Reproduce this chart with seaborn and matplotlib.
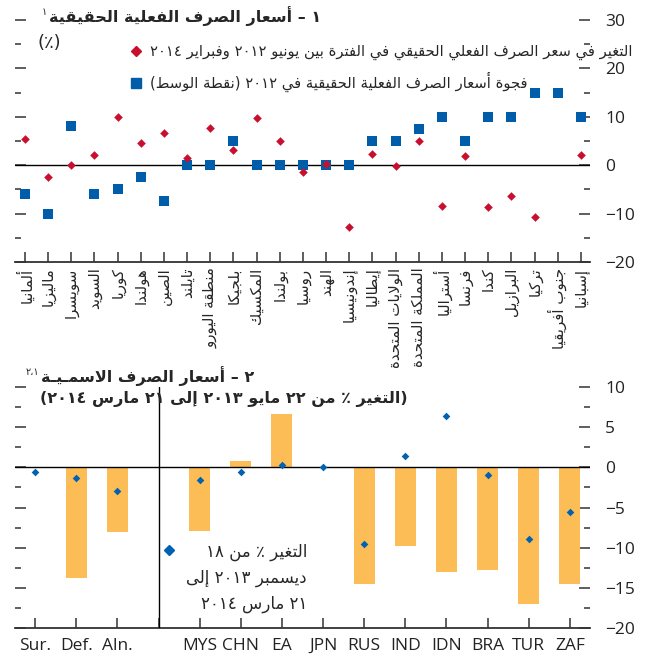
import re
import numpy as np
import pandas as pd
import matplotlib
matplotlib.use("Agg")
import matplotlib.pyplot as plt
import seaborn as sns
from matplotlib.lines import Line2D
from matplotlib.ticker import MultipleLocator

# ---------------- data ----------------
countries = ["ألمانيا", "ماليزيا", "سويسرا", "السويد", "كوريا", "هولندا", "الصين",
             "تايلند", "منطقة اليورو", "بلجيكا", "المكسيك", "بولندا", "روسيا",
             "الهند", "إندونيسيا", "إيطاليا", "الولايات المتحدة", "المملكة المتحدة",
             "أستراليا", "فرنسا", "كندا", "البرازيل", "تركيا", "جنوب أفريقيا", "إسبانيا"]
reer_change = [5.4, -2.4, 0.0, 2.2, 10.0, 4.5, 6.6, 1.5, 7.7, 3.2, 9.8, 5.1, -1.4,
               0.25, -12.8, 2.4, -0.1, 5.1, -8.4, 1.8, -8.6, -6.4, -10.6, np.nan, 2.2]
reer_gap = [-6.0, -10.0, 8.0, -6.0, -5.0, -2.5, -7.5, 0.0, 0.0, 5.0, 0.0, 0.0, 0.0,
            0.0, 0.0, 5.0, 5.0, 7.5, 10.0, 5.0, 10.0, 10.0, 15.0, 15.0, 10.0]

groups = ["Sur.", "Def.", "Aln.", " ", "MYS", "CHN", "EA", "JPN", "RUS", "IND",
          "IDN", "BRA", "TUR", "ZAF"]
chg_may = [np.nan, -13.8, -8.0, np.nan, -7.9, 0.8, 6.65, np.nan, -14.5, -9.8,
           -13.0, -12.8, -17.0, -14.5]
chg_dec = [-0.6, -1.3, -3.0, np.nan, -1.6, -0.6, 0.3, 0.0, -9.5, 1.45,
           6.4, -0.9, -8.9, -5.5]

top_yticks = [-20, -10, 0, 10, 20, 30]
bot_yticks = [-20, -15, -10, -5, 0, 5, 10]

# ---------------- Arabic shaping (no external libs) ----------------
_forms = [('ء', 0xFE80, 1), ('آ', 0xFE81, 2), ('أ', 0xFE83, 2), ('ؤ', 0xFE85, 2),
          ('إ', 0xFE87, 2), ('ئ', 0xFE89, 4), ('ا', 0xFE8D, 2), ('ب', 0xFE8F, 4),
          ('ة', 0xFE93, 2), ('ت', 0xFE95, 4), ('ث', 0xFE99, 4), ('ج', 0xFE9D, 4),
          ('ح', 0xFEA1, 4), ('خ', 0xFEA5, 4), ('د', 0xFEA9, 2), ('ذ', 0xFEAB, 2),
          ('ر', 0xFEAD, 2), ('ز', 0xFEAF, 2), ('س', 0xFEB1, 4), ('ش', 0xFEB5, 4),
          ('ص', 0xFEB9, 4), ('ض', 0xFEBD, 4), ('ط', 0xFEC1, 4), ('ظ', 0xFEC5, 4),
          ('ع', 0xFEC9, 4), ('غ', 0xFECD, 4), ('ف', 0xFED1, 4), ('ق', 0xFED5, 4),
          ('ك', 0xFED9, 4), ('ل', 0xFEDD, 4), ('م', 0xFEE1, 4), ('ن', 0xFEE5, 4),
          ('ه', 0xFEE9, 4), ('و', 0xFEED, 2), ('ى', 0xFEEF, 2), ('ي', 0xFEF1, 4)]
FORMS = {c: (b, n) for c, b, n in _forms}
LAMALEF = {'آ': 0xFEF5, 'أ': 0xFEF7, 'إ': 0xFEF9, 'ا': 0xFEFB}
MIRROR = {'(': ')', ')': '('}
DIG = set('0123456789٠١٢٣٤٥٦٧٨٩')
TATWEEL = 'ـ'


def _shape(s):
    units, i = [], 0
    while i < len(s):
        if s[i] == 'ل' and i + 1 < len(s) and s[i + 1] in LAMALEF:
            units.append(('LA', s[i + 1]))
            i += 2
        else:
            units.append((s[i], None))
            i += 1

    def dual(u):
        return u[0] == TATWEEL or (u[0] in FORMS and FORMS[u[0]][1] == 4)

    def joining(u):
        return (u[0] == 'LA' or u[0] == TATWEEL
                or (u[0] in FORMS and FORMS[u[0]][1] >= 2))

    out = []
    for k, u in enumerate(units):
        prev = units[k - 1] if k > 0 else None
        nxt = units[k + 1] if k + 1 < len(units) else None
        jp = prev is not None and dual(prev) and joining(u)
        if u[0] == 'LA':
            out.append(chr(LAMALEF[u[1]] + (1 if jp else 0)))
            continue
        c = u[0]
        if c not in FORMS:
            out.append(c)
            continue
        base, n = FORMS[c]
        jn = n == 4 and nxt is not None and joining(nxt)
        if n == 1:
            idx = 0
        elif n == 2:
            idx = 1 if jp else 0
        else:
            idx = (3 if jn else 1) if jp else (2 if jn else 0)
        out.append(chr(base + idx))
    return ''.join(out)


def ar(s):
    shaped = _shape(s)
    runs = re.findall(r'[0-9٠-٩]+|[^0-9٠-٩]+', shaped)
    vis = []
    for r in reversed(runs):
        if r[0] in DIG:
            vis.append(r)
        else:
            vis.append(''.join(MIRROR.get(ch, ch) for ch in reversed(r)))
    return ''.join(vis)


# ---------------- style ----------------
sns.set_style("white")
plt.rcParams['font.family'] = ['Open Sans', 'DejaVu Sans']
AR = ['DejaVu Sans']

W, H = 651, 662
RED = '#C8102E'
BLUE = '#005DAA'
ORANGE = '#FDBD56'
DBLUE = '#0062B0'
AXC = '#333333'


def P(x, y):
    return x / W, 1 - y / H


fig = plt.figure(figsize=(W / 100, H / 100), dpi=100)
ax1 = fig.add_axes([15 / W, 1 - 262 / H, 575 / W, 242 / H])
ax2 = fig.add_axes([15 / W, 1 - 628 / H, 575 / W, 241 / H])

# ---------------- top panel ----------------
clabels = [ar(c) for c in countries]
df1 = pd.DataFrame({'country': clabels, 'gap': reer_gap, 'change': reer_change})
sns.stripplot(data=df1, x='country', y='gap', order=clabels, jitter=False,
              marker='s', size=7.4, color=BLUE, linewidth=0, ax=ax1, zorder=3)
sns.stripplot(data=df1, x='country', y='change', order=clabels, jitter=False,
              marker='D', size=4.4, color=RED, linewidth=0, ax=ax1, zorder=4)
ax1.axhline(0, color='black', lw=1, zorder=2)
ax1.set_ylim(-20, 30)
ax1.set_xlim(-0.43, len(countries) - 1 + 0.39)
ax1.set_yticks(top_yticks)
ax1.yaxis.set_minor_locator(MultipleLocator(5))
ax1.set_xticks(range(len(clabels)))
ax1.set_xticklabels(clabels, rotation=90, family=AR, fontsize=10.8, va='top')

# ---------------- bottom panel ----------------
df2 = pd.DataFrame({'grp': groups, 'may': chg_may, 'dec': chg_dec})
sns.barplot(data=df2.dropna(subset=['may']), x='grp', y='may', order=groups,
            color=ORANGE, saturation=1, width=0.51, errorbar=None, linewidth=0,
            ax=ax2, zorder=2)
sns.stripplot(data=df2.dropna(subset=['dec']), x='grp', y='dec', order=groups,
              jitter=False, marker='D', size=3.9, color=DBLUE, linewidth=0,
              ax=ax2, zorder=4)
ax2.axhline(0, color='black', lw=1, zorder=3)
ax2.axvline(groups.index(" "), color='black', lw=1, zorder=3)
ax2.set_ylim(-20, 10)
ax2.set_xlim(-0.49, len(groups) - 1 + 0.49)
ax2.set_yticks(bot_yticks)
ax2.yaxis.set_minor_locator(MultipleLocator(2.5))
ax2.set_xticks(range(len(groups)))
ax2.set_xticklabels(groups, fontsize=12.5)

for ax in (ax1, ax2):
    ax.set_xlabel('')
    ax.set_ylabel('')
    for s in ('left', 'right', 'top'):
        ax.spines[s].set_visible(False)
    ax.spines['bottom'].set_color(AXC)
    ax.spines['bottom'].set_linewidth(1.3)
    ax.tick_params(axis='y', which='both', left=True, right=True, labelleft=False,
                   labelright=True, direction='in', color=AXC, width=1.1)
    ax.tick_params(axis='y', which='major', length=8, pad=11, labelsize=12.5,
                   labelcolor='#222222')
    ax.tick_params(axis='y', which='minor', length=4)
    ax.tick_params(axis='x', which='both', bottom=True, direction='in', length=7,
                   color=AXC, width=1.1)
    ax.patch.set_alpha(0)
ax1.tick_params(axis='x', pad=4)
ax2.tick_params(axis='x', pad=7, labelcolor='#222222')

# ---------------- titles / legends ----------------
t1 = fig.text(*P(321, 16), ar("١ – أسعار الصرف الفعلية الحقيقية"), ha='right',
              va='center', family=AR, fontsize=11.5, fontweight='bold')
fig.text(*P(49, 43), ar("(٪)"), ha='center', va='center', family=AR, fontsize=13)

h1 = [Line2D([], [], marker='D', color=RED, ls='none', markersize=5.2),
      Line2D([], [], marker='s', color=BLUE, ls='none', markersize=7.6)]
l1 = [ar("التغير في سعر الصرف الفعلي الحقيقي في الفترة بين يونيو ٢٠١٢ وفبراير ٢٠١٤"),
      ar("فجوة أسعار الصرف الفعلية الحقيقية في ٢٠١٢ (نقطة الوسط)")]
ax1.legend(h1, l1, loc='upper left', bbox_to_anchor=P(129, 44),
           bbox_transform=fig.transFigure, frameon=False, borderpad=0,
           borderaxespad=0, handlelength=1.0, handletextpad=0.45,
           labelspacing=0.8, prop={'family': AR, 'size': 10.6})

t2 = fig.text(*P(254, 376), ar("٢ – أسعار الصرف الاسمـيـة"), ha='right',
              va='center', family=AR, fontsize=11.5, fontweight='bold')
fig.text(*P(408, 399), ar("(التغير ٪ من ٢٢ مايو ٢٠١٣ إلى ٢١ مارس ٢٠١٤)"),
         ha='right', va='center', family=AR, fontsize=11.5, fontweight='bold')

h2 = [Line2D([], [], marker='D', color=DBLUE, ls='none', markersize=5.0)]
ax2.legend(h2, [''], loc='center left', bbox_to_anchor=P(162, 551),
           bbox_transform=fig.transFigure, frameon=False, borderpad=0,
           borderaxespad=0, handlelength=1.0, handletextpad=0)
for txt, yy in [("التغير ٪ من ١٨", 552), ("ديسمبر ٢٠١٣ إلى", 578),
                ("٢١ مارس ٢٠١٤", 604)]:
    fig.text(*P(307, yy), ar(txt), ha='right', va='center', family=AR, fontsize=12)

# superscript footnote marks placed just left of their titles
fig.canvas.draw()
rend = fig.canvas.get_renderer()
for t, note in [(t1, "١"), (t2, "١،٢")]:
    bb = t.get_window_extent(rend)
    x0 = bb.x0 - 1.5
    fig.text(x0 / W, (bb.y1 - 1) / H, ar(note), ha='right', va='top',
             family=AR, fontsize=7)

fig.savefig("out.png", dpi=100)
